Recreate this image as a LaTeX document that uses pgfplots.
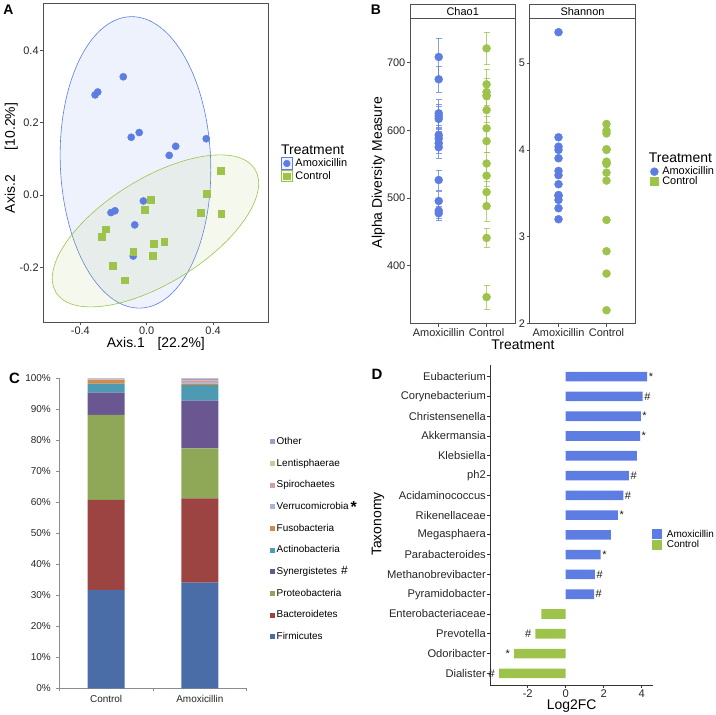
\documentclass[border=0pt]{standalone}
\usepackage{pgfplots}
\pgfplotsset{compat=1.18}
\usepackage{fontspec}
\setmainfont{Liberation Sans}

\definecolor{amox}{RGB}{93,125,226}
\definecolor{ctrl}{RGB}{157,195,74}
\definecolor{frame}{RGB}{80,80,80}
\definecolor{xgray}{RGB}{140,140,140}
% phylum colours (panel C)
\definecolor{cFirm}{RGB}{74,109,167}
\definecolor{cBact}{RGB}{155,68,66}
\definecolor{cProt}{RGB}{143,168,88}
\definecolor{cSyn}{RGB}{106,87,146}
\definecolor{cAct}{RGB}{78,154,179}
\definecolor{cFuso}{RGB}{212,138,70}
\definecolor{cVerr}{RGB}{166,182,216}
\definecolor{cSpir}{RGB}{212,159,159}
\definecolor{cLent}{RGB}{189,207,158}
\definecolor{cOth}{RGB}{167,156,195}

\newcommand{\fs}[1]{\fontsize{#1}{#1}\selectfont}
\newcommand{\st}{\raisebox{-2.5bp}{*}}

\pgfplotsset{
  every axis/.append style={scale only axis, anchor=south west,
    /pgf/number format/assume math mode=true},
  ckey/.style={fill=#1, draw=none,
    legend image code/.code={\fill[#1] (0bp,-2.5bp) rectangle (5bp,2.5bp);}},
  dkey/.style={fill=#1, draw=none,
    legend image code/.code={\fill[#1] (0bp,-4.7bp) rectangle (9.7bp,4.7bp);}},
  ggframe/.style={
    axis line style={draw=frame, line width=0.9bp},
    tick style={draw=frame, line width=0.8bp}, tick align=outside,
    major tick length=3bp, tick pos=left,
    tick label style={font=\fs{11}, text=black!85, inner sep=1.5bp}},
}

\begin{document}
\begin{tikzpicture}[x=1bp,y=1bp]
\useasboundingbox (0,0) rectangle (716,715);

% ================= A : PCoA
\begin{axis}[ggframe,
  at={(43.3bp,392.7bp)}, width=225bp, height=319bp,
  xmin=-0.623, xmax=0.733, ymin=-0.351, ymax=0.530,
  xtick={-0.4,0,0.4}, xticklabels={-0.4,0.0,0.4},
  ytick={-0.2,0,0.2,0.4}, yticklabels={-0.2,0.0,0.2,0.4},
  legend style={at={(axis description cs:1.0564,0.5172)}, anchor=north west,
    draw=none, fill=none, inner sep=0pt, row sep=0.6bp, font=\fs{11},
    nodes={inner sep=0pt}, /tikz/every odd column/.append style={column sep=3bp}},
  legend cell align=left,
]
\draw[amox, line width=0.6bp, fill=amox, fill opacity=0.1,
  rotate around={2:(axis cs:-0.0675,0.0906)}]
  (axis cs:-0.0675,0.0906) ellipse [x radius=75.2bp, y radius=145.8bp];
\draw[ctrl, line width=0.6bp, fill=ctrl, fill opacity=0.1,
  rotate around={31.8:(axis cs:0.053,-0.0986)}]
  (axis cs:0.053,-0.0986) ellipse [x radius=117bp, y radius=52.3bp];

\addplot[only marks, mark=*, mark size=3.6bp, color=amox,
  legend image code/.code={
    \draw[amox, fill=amox!10, line width=0.6bp] (0bp,-5.7bp) rectangle (10.7bp,5.7bp);
    \fill[amox] (5.35bp,0bp) circle (3.4bp);}]
coordinates {
 (-0.311,0.277) (-0.295,0.285) (-0.141,0.327) (-0.093,0.160) (-0.045,0.173)
 (0.136,0.110) (0.175,0.135) (0.359,0.156) (-0.020,-0.016) (-0.215,-0.048)
 (-0.191,-0.043) (-0.072,-0.082) (-0.081,-0.168)
};
\addlegendentry{Amoxicillin}
\addplot[only marks, mark=square*, mark size=3.4bp, color=ctrl,
  legend image code/.code={
    \draw[ctrl, fill=ctrl!10, line width=0.6bp] (0bp,-5.7bp) rectangle (10.7bp,5.7bp);
    \fill[ctrl] (2.1bp,-3.3bp) rectangle (8.6bp,3.3bp);}]
coordinates {
 (0.448,0.068) (0.361,0.004) (0.327,-0.048) (0.449,-0.052) (0.022,-0.013)
 (-0.010,-0.041) (-0.245,-0.094) (-0.271,-0.114) (0.042,-0.134) (0.106,-0.129)
 (-0.081,-0.157) (0.038,-0.168) (-0.205,-0.194) (-0.133,-0.235)
};
\addlegendentry{Control}
\end{axis}

% ================= B : alpha diversity, Chao1
\begin{axis}[ggframe,
  at={(410bp,391.3bp)}, width=105.3bp, height=305.4bp,
  xmin=0.4, xmax=2.6, ymin=314.3, ymax=765.6,
  xtick={1,2}, xticklabels={Amoxicillin,Control},
  ytick={400,500,600,700},
]
\addplot[only marks, mark=*, mark size=4bp, color=amox,
  error bars/.cd, y dir=both, y explicit,
  error bar style={line width=0.6bp, amox, opacity=0.75},
  error mark options={rotate=90, mark size=3bp, amox, line width=0.6bp, opacity=0.75}]
coordinates {
 (1,708.4) +- (0,28) (1,675.5) +- (0,19) (1,625.2) +- (0,20) (1,621.2) +- (0,18)
 (1,617) +- (0,18) (1,593) +- (0,15) (1,588) +- (0,14) (1,581) +- (0,15)
 (1,575) +- (0,16) (1,526.6) +- (0,15) (1,495.6) +- (0,14) (1,481.3) +- (0,12)
 (1,477.4) +- (0,11)
};
\addplot[only marks, mark=*, mark size=4bp, color=ctrl,
  error bars/.cd, y dir=both, y explicit,
  error bar style={line width=0.6bp, ctrl, opacity=0.75},
  error mark options={rotate=90, mark size=3bp, ctrl, line width=0.6bp, opacity=0.75}]
coordinates {
 (2,721.1) +- (0,24) (2,668) +- (0,22) (2,656.6) +- (0,20) (2,651.7) +- (0,20)
 (2,651) +- (0,19) (2,630) +- (0,18) (2,603) +- (0,18) (2,584) +- (0,17)
 (2,551) +- (0,17) (2,533) +- (0,16) (2,508.8) +- (0,16) (2,488) +- (0,22)
 (2,441) +- (0,14.5) (2,353.6) +- (0,18)
};
\end{axis}

% ================= B : alpha diversity, Shannon
\begin{axis}[ggframe,
  at={(529.7bp,391.3bp)}, width=105.6bp, height=305.4bp,
  xmin=0.4, xmax=2.6, ymin=1.995, ymax=5.519,
  xtick={1,2}, xticklabels={Amoxicillin,Control},
  ytick={2,3,4,5},
  legend style={at={(axis description cs:1.139,0.5138)}, anchor=north west,
    draw=none, fill=none, inner sep=0pt, row sep=0.5bp, font=\fs{11},
    nodes={inner sep=0pt}, /tikz/every odd column/.append style={column sep=3.7bp}},
  legend cell align=left,
]
\addplot[only marks, mark=*, mark size=4bp, color=amox,
  legend image code/.code={\fill[amox] (4bp,0bp) circle (4bp);}]
coordinates {
 (1,5.358) (1,4.146) (1,4.038) (1,4.0) (1,3.904) (1,3.758) (1,3.708)
 (1,3.604) (1,3.48) (1,3.469) (1,3.423) (1,3.327) (1,3.2)
};
\addlegendentry{Amoxicillin}
\addplot[only marks, mark=*, mark size=4bp, color=ctrl,
  legend image code/.code={\fill[ctrl] (0bp,-4bp) rectangle (8bp,4bp);}]
coordinates {
 (2,4.3) (2,4.223) (2,4.19) (2,4.008) (2,4.0) (2,3.865) (2,3.85) (2,3.838)
 (2,3.738) (2,3.646) (2,3.192) (2,2.831) (2,2.573) (2,2.15)
};
\addlegendentry{Control}
\end{axis}

% ================= C : phylum composition
\begin{axis}[
  at={(59.3bp,26.7bp)}, width=187.4bp, height=310bp,
  ybar stacked, bar width=37bp,
  xmin=-0.5, xmax=1.5, ymin=0, ymax=100,
  axis x line*=bottom, axis y line*=left,
  axis line style={draw=xgray, line width=0.8bp},
  tick style={draw=xgray, line width=0.8bp}, tick align=outside, major tick length=3bp,
  xtick={-0.5,0.5,1.5}, xticklabels={},
  extra x ticks={0,1}, extra x tick labels={Control,Amoxicillin},
  extra x tick style={major tick length=0pt, tick label style={yshift=-3bp}},
  ytick={0,10,20,30,40,50,60,70,80,90,100},
  yticklabels={0\%,10\%,20\%,30\%,40\%,50\%,60\%,70\%,80\%,90\%,100\%},
  tick label style={font=\fs{10}, text=black!85},
  yticklabel style={xshift=-2bp},
  reverse legend,
  legend style={at={(axis description cs:1.1243,0.81)}, anchor=north west,
    draw=none, fill=none, inner sep=0pt, row sep=12.67bp, font=\fs{10},
    nodes={inner sep=0pt, text height=7bp, text depth=2bp},
    /tikz/every odd column/.append style={column sep=1.5bp}},
  legend cell align=left,
]
\addplot[ckey=cFirm] coordinates {(0,31.7) (1,34.1)};
\addlegendentry{Firmicutes}
\addplot[ckey=cBact] coordinates {(0,29.1) (1,27.2)};
\addlegendentry{Bacteroidetes}
\addplot[ckey=cProt] coordinates {(0,27.4) (1,16.1)};
\addlegendentry{Proteobacteria}
\addplot[ckey=cSyn] coordinates {(0,7.2) (1,15.4)};
\addlegendentry{Synergistetes\hspace{4bp}{\fs{12}\#}}
\addplot[ckey=cAct] coordinates {(0,2.9) (1,5.0)};
\addlegendentry{Actinobacteria}
\addplot[ckey=cFuso] coordinates {(0,1.1) (1,0.5)};
\addlegendentry{Fusobacteria}
\addplot[ckey=cVerr] coordinates {(0,0.1) (1,0.5)};
\addlegendentry{Verrucomicrobia\hspace{2bp}{\fs{16}\bfseries\raisebox{-3.5bp}{*}}}
\addplot[ckey=cSpir] coordinates {(0,0.1) (1,0.5)};
\addlegendentry{Spirochaetes}
\addplot[ckey=cLent] coordinates {(0,0.1) (1,0.1)};
\addlegendentry{Lentisphaerae}
\addplot[ckey=cOth] coordinates {(0,0.3) (1,0.6)};
\addlegendentry{Other}
\end{axis}

% ================= D : log2 fold change
\begin{axis}[
  at={(490bp,29.8bp)}, width=163.3bp, height=320.4bp,
  xbar, bar width=9.6bp, bar shift=0pt,
  xmin=-3.984, xmax=4.61, ymin=0.4, ymax=16.6,
  axis x line*=bottom, axis y line*=left,
  axis line style={draw=black!80, line width=0.8bp},
  tick style={draw=black!80, line width=0.8bp}, tick align=outside, major tick length=3bp,
  xtick={-2,0,2,4}, xticklabels={-2,0,2,4},
  ytick={1,...,16},
  yticklabels={Dialister,Odoribacter,Prevotella,Enterobacteriaceae,Pyramidobacter,
    Methanobrevibacter,Parabacteroides,Megasphaera,Rikenellaceae,Acidaminococcus,
    ph2,Klebsiella,Akkermansia,Christensenella,Corynebacterium,Eubacterium},
  tick label style={font=\fs{11.2}, text=black!85, inner sep=1bp},
  point meta=explicit symbolic,
  nodes near coords,
  every node near coord/.append style={font=\fs{11}, text=black!90},
  legend style={at={(axis description cs:0.992,0.4866)}, anchor=north west,
    draw=none, fill=none, inner sep=0pt, row sep=1.3bp, font=\fs{10},
    nodes={inner sep=0pt}, /tikz/every odd column/.append style={column sep=5bp}},
  legend cell align=left,
]
\addplot[dkey=amox, every node near coord/.append style={anchor=west, inner xsep=1.5bp, inner ysep=0pt}]
coordinates {
 (4.29,16) [\st] (4.05,15) [\#] (3.95,14) [\st] (3.91,13) [\st] (3.74,12) [\relax]
 (3.33,11) [\#] (3.03,10) [\#] (2.75,9) [\st] (2.37,8) [\relax] (1.84,7) [\st]
 (1.54,6) [\#] (1.49,5) [\#]
};
\addlegendentry{Amoxicillin}
\addplot[dkey=ctrl, every node near coord/.append style={anchor=east, inner xsep=4bp, inner ysep=0pt}]
coordinates {
 (-1.28,4) [\relax] (-1.60,3) [\#] (-2.72,2) [\st] (-3.51,1) [\#]
};
\addlegendentry{Control}
\end{axis}

% ---- facet strips, axis titles, legend titles, panel letters
\draw[frame, line width=0.9bp, fill=white] (410,696.7) rectangle (515.3,711);
\draw[frame, line width=0.9bp, fill=white] (529.7,696.7) rectangle (635.3,711);
\node[font=\fs{11}] at (462.7,703.9) {Chao1};
\node[font=\fs{11}] at (582.5,703.9) {Shannon};

\node[font=\fs{14}, anchor=west, inner sep=0pt] at (106.7,370.7) {Axis.1\hspace{12.7bp}[22.2\%]};
\node[font=\fs{14}, rotate=90, anchor=west, inner sep=0pt] at (11.2,501.7) {Axis.2\hspace{25bp}[10.2\%]};
\node[font=\fs{14}, anchor=west, inner sep=0pt] at (281,565.7) {Treatment};

\node[font=\fs{14}, rotate=90] at (378.3,542.5) {Alpha Diversity Measure};
\node[font=\fs{14}] at (523,370.7) {Treatment};
\node[font=\fs{14}, anchor=west, inner sep=0pt] at (648.7,557.3) {Treatment};

\node[font=\fs{14}, rotate=90] at (378,191) {Taxonomy};
\node[font=\fs{14}, inner sep=1pt] at (571.7,8.8) {Log2FC};

\node[font=\fs{14}\bfseries] at (8.3,705) {A};
\node[font=\fs{14}\bfseries] at (376,705) {B};
\node[font=\fs{15}\bfseries] at (14.5,336.5) {C};
\node[font=\fs{15}\bfseries] at (377,340.3) {D};
\end{tikzpicture}
\end{document}
